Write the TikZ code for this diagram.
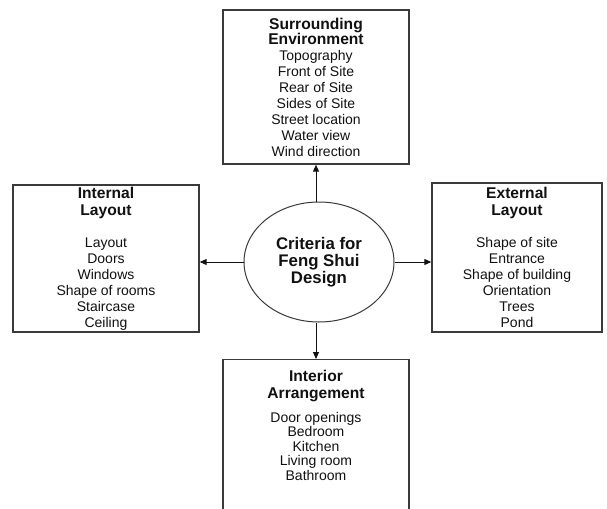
\documentclass[tikz,border=0pt]{standalone}
\usepackage{fontspec}
\setmainfont{Liberation Sans}
\usetikzlibrary{arrows.meta, positioning, shapes.geometric}
\definecolor{BoxGray}{HTML}{3A3A3A}
\definecolor{Ink}{HTML}{111111}
\newcommand{\critheading}[1]{{\fontsize{7.8}{8}\selectfont\bfseries #1}}

\tikzset{
  criteriabox/.style={draw=BoxGray, line width=0.7pt, inner sep=0pt, align=center,
    font=\fontsize{7}{8}\selectfont, text=Ink},
  criterialist/.style={inner sep=0pt, align=center, font=\fontsize{7}{7.2}\selectfont, text=Ink},
  centreoval/.style={ellipse, draw=BoxGray, line width=0.5pt, inner sep=0pt,
    minimum width=75pt, minimum height=60pt, align=center,
    font=\fontsize{8.4}{8.5}\selectfont\bfseries, text=Ink},
  link/.style={->, line width=0.5pt, color=Ink},
}

\begin{document}
\begin{tikzpicture}[x=0.5pt, y=-0.5pt, >={Triangle[length=3.5pt, width=3pt]}]
  % Frame of the picture
  \useasboundingbox (0,0) rectangle (607,509);
  \fill[white] (0,0) rectangle (607,509);
  \clip (0,0) rectangle (607,509);

  % Central idea
  \node[centreoval] (criteria) at (319,262) {Criteria for\\Feng Shui\\Design};

  % Surrounding environment (top)
  \node[criteriabox, minimum width=93pt, minimum height=77pt] (surround) at (316,87)
    {\critheading{Surrounding}\\[-0.5pt]\critheading{Environment}\\Topography\\Front of Site\\Rear of Site\\
     Sides of Site\\Street location\\Water view\\Wind direction};

  % Internal layout (left)
  \node[criteriabox, minimum width=93pt, minimum height=73.5pt] (internal) at (106,258.5)
    {\critheading{Internal}\\[0.5pt]\critheading{Layout}\\[8pt]Layout\\Doors\\Windows\\Shape of rooms\\
     Staircase\\Ceiling};

  % External layout (right)
  \node[criteriabox, minimum width=85pt, minimum height=74.5pt] (external) at (517,257.5)
    {\critheading{External}\\[0.5pt]\critheading{Layout}\\[8pt]Shape of site\\Entrance\\Shape of building\\
     Orientation\\Trees\\Pond};

  % Interior arrangement (bottom, runs off the page)
  \node[criteriabox, anchor=north, minimum width=93pt, minimum height=100pt] (interior) at (316,359) {};
  \node[criterialist, anchor=north] (interiorlist) at ([yshift=-5.5pt]interior.north)
    {\critheading{Interior}\\[1pt]\critheading{Arrangement}\\[5pt]Door openings\\Bedroom\\Kitchen\\
     Living room\\Bathroom};

  % Arrows out of the centre
  \draw[link] (surround.south |- criteria.north) -- (surround.south);
  \draw[link] (criteria.west) -- (criteria.west -| internal.east);
  \draw[link] (criteria.east) -- (criteria.east -| external.west);
  \draw[link] (interior.north |- criteria.south) -- (interior.north);
\end{tikzpicture}
\end{document}
